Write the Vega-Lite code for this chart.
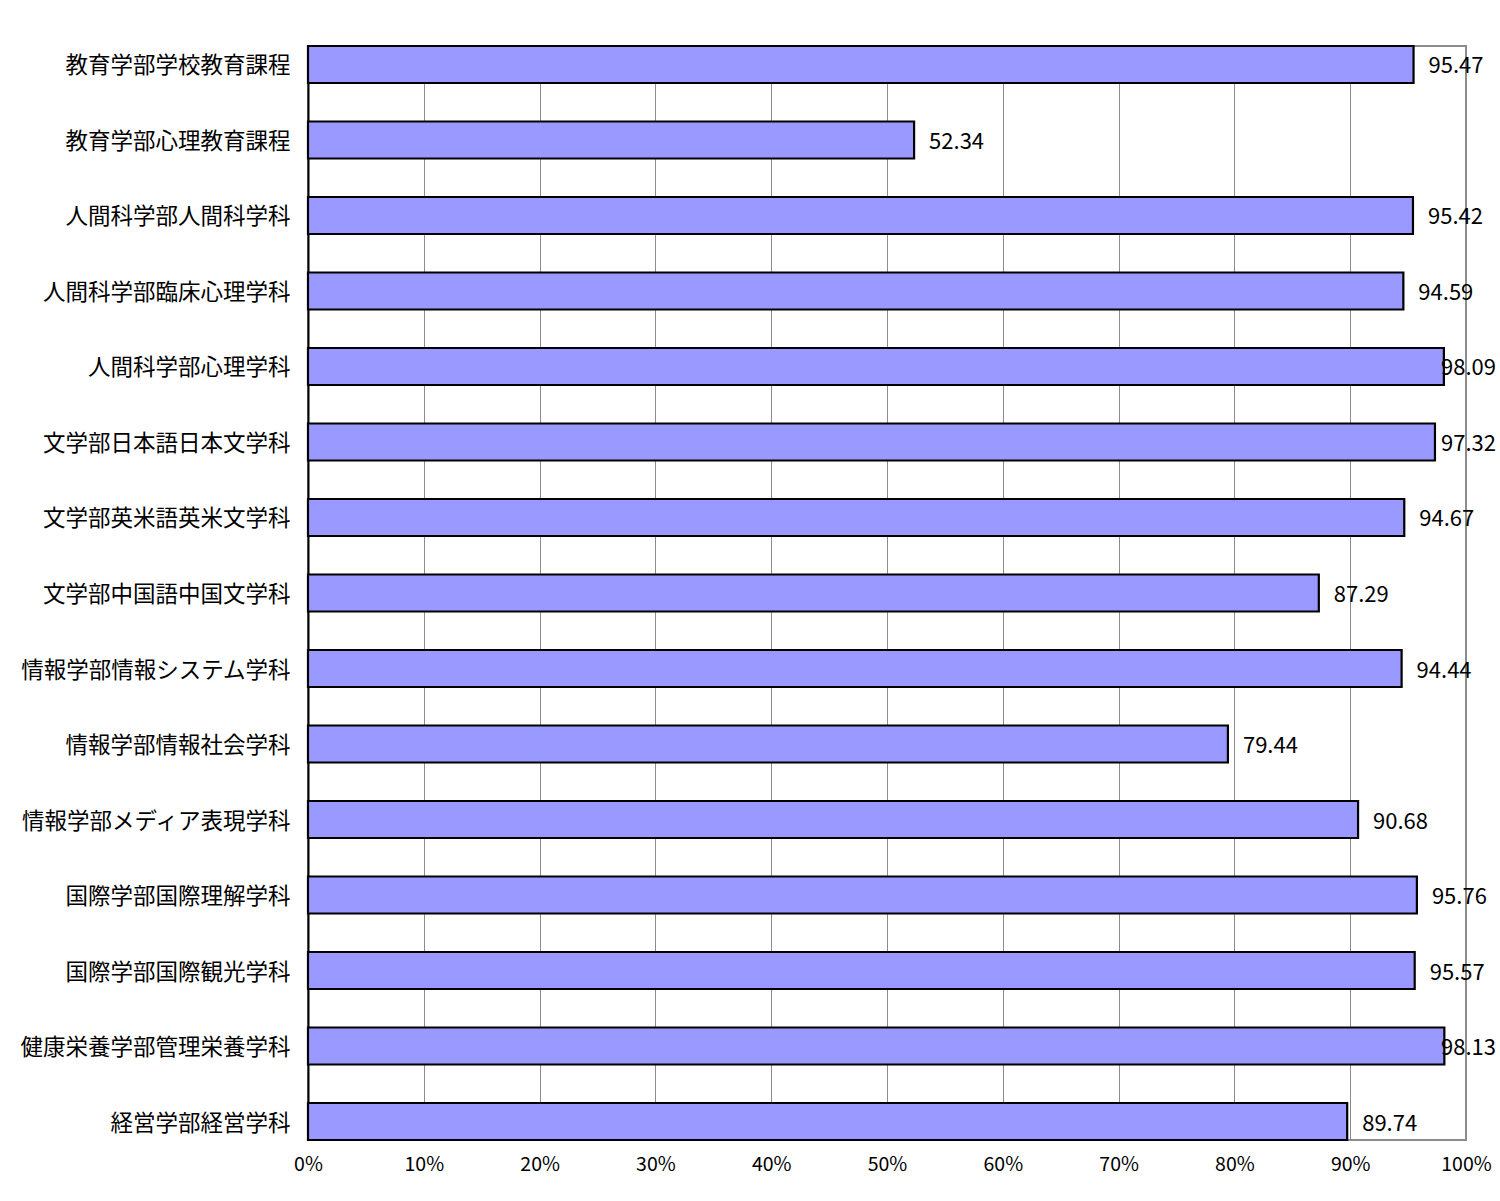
{
  "$schema": "https://vega.github.io/schema/vega-lite/v6.json",
  "autosize": "none",
  "width": 1158,
  "height": 1094,
  "padding": {"left": 308, "top": 46, "right": 34, "bottom": 61},
  "background": "white",
  "config": {
    "view": {"stroke": "#8c8c8c", "strokeWidth": 2},
    "font": "Noto Sans CJK JP"
  },
  "data": {
    "values": [
      {"name": "教育学部学校教育課程", "value": 95.47},
      {"name": "教育学部心理教育課程", "value": 52.34},
      {"name": "人間科学部人間科学科", "value": 95.42},
      {"name": "人間科学部臨床心理学科", "value": 94.59},
      {"name": "人間科学部心理学科", "value": 98.09},
      {"name": "文学部日本語日本文学科", "value": 97.32},
      {"name": "文学部英米語英米文学科", "value": 94.67},
      {"name": "文学部中国語中国文学科", "value": 87.29},
      {"name": "情報学部情報システム学科", "value": 94.44},
      {"name": "情報学部情報社会学科", "value": 79.44},
      {"name": "情報学部メディア表現学科", "value": 90.68},
      {"name": "国際学部国際理解学科", "value": 95.76},
      {"name": "国際学部国際観光学科", "value": 95.57},
      {"name": "健康栄養学部管理栄養学科", "value": 98.13},
      {"name": "経営学部経営学科", "value": 89.74}
    ]
  },
  "encoding": {
    "y": {
      "field": "name",
      "type": "nominal",
      "sort": null,
      "scale": {"paddingInner": 0.51, "paddingOuter": 0},
      "axis": {
        "title": null,
        "ticks": false,
        "labelFontSize": 22.5,
        "labelColor": "black",
        "labelPadding": 18,
        "labelOffset": 2,
        "domainColor": "black",
        "domainWidth": 2,
        "labelLimit": 400
      }
    }
  },
  "layer": [
    {
      "mark": {"type": "bar", "fill": "#9999ff", "stroke": "black", "strokeWidth": 2.2},
      "encoding": {
        "x": {
          "field": "value",
          "type": "quantitative",
          "scale": {"domain": [0, 100], "nice": false},
          "axis": {
            "title": null,
            "values": [0, 10, 20, 30, 40, 50, 60, 70, 80, 90, 100],
            "labelExpr": "datum.value + '%'",
            "labelFlush": false,
            "ticks": false,
            "domain": false,
            "labelFontSize": 19.5,
            "labelColor": "black",
            "labelPadding": 15,
            "grid": true,
            "gridColor": "#8c8c8c",
            "gridWidth": 1
          }
        }
      }
    },
    {
      "transform": [{"calculate": "min(datum.value, 96.55)", "as": "labelPos"}],
      "mark": {"type": "text", "align": "left", "baseline": "middle", "dx": 15, "dy": 2, "fontSize": 22, "color": "black"},
      "encoding": {
        "x": {"field": "labelPos", "type": "quantitative"},
        "text": {"field": "value", "type": "quantitative", "format": ".2f"}
      }
    }
  ]
}
